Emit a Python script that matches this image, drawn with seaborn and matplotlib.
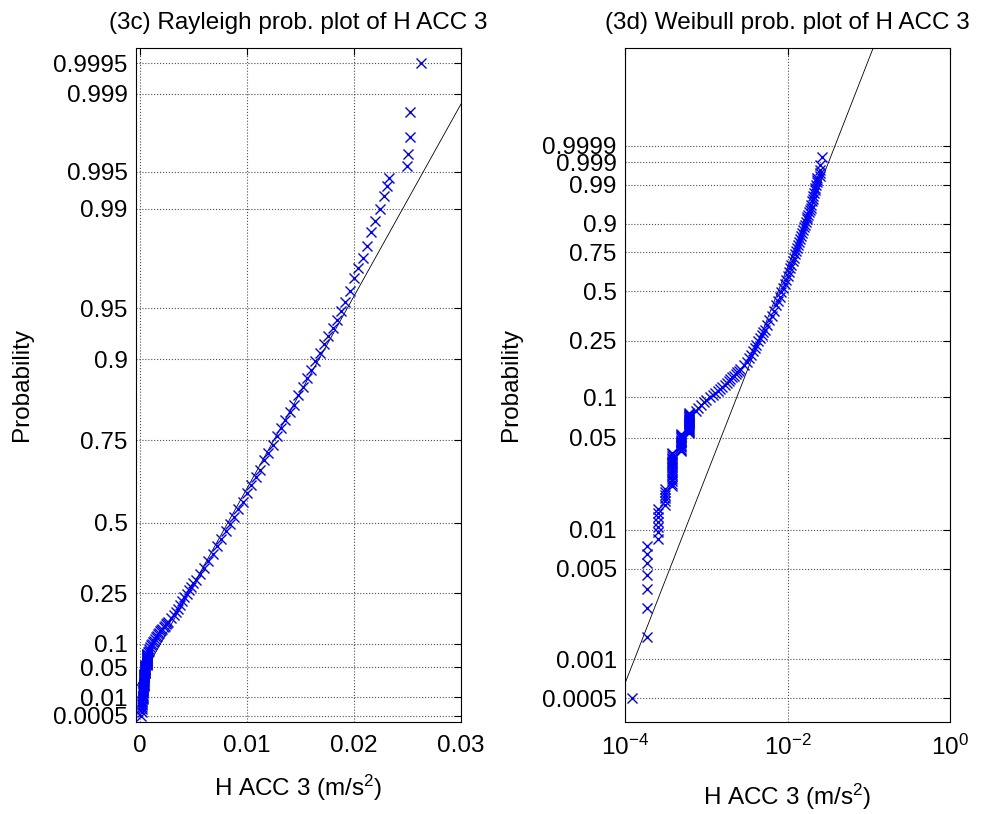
import numpy as np
import pandas as pd
import matplotlib
matplotlib.use('Agg')
import matplotlib.pyplot as plt
import seaborn as sns
from matplotlib.ticker import NullLocator

# --- 1. Data (H ACC 3, m/s^2) ---
n_samples = 1000

# lower tail: quantised values and how many samples share each one
tail_values = [1.22e-4, 1.84e-4, 2.56e-4, 3.1e-4, 3.8e-4, 4.9e-4, 6.2e-4]
tail_counts = [1, 7, 7, 6, 18, 15, 23]

# body of the sample: probability level -> acceleration
body_prob = [0.080, 0.084, 0.088, 0.092, 0.096, 0.100, 0.104, 0.108, 0.112, 0.116,
             0.120, 0.124, 0.128, 0.132, 0.136, 0.140, 0.144, 0.148, 0.152, 0.156,
             0.160, 0.170, 0.180, 0.190, 0.200, 0.212, 0.224, 0.236, 0.248, 0.260,
             0.272, 0.284, 0.296, 0.315, 0.339, 0.363, 0.387, 0.418, 0.442, 0.469,
             0.496, 0.519, 0.545, 0.570, 0.598, 0.625, 0.648, 0.670, 0.697, 0.717,
             0.739, 0.760, 0.778, 0.797, 0.813, 0.828, 0.845, 0.859, 0.873, 0.885,
             0.897, 0.908, 0.918, 0.926, 0.934, 0.941, 0.948, 0.954, 0.961, 0.968,
             0.973, 0.977, 0.981, 0.985, 0.9875, 0.9899, 0.9921, 0.9934, 0.9944]
body_acc = [7.5e-4, 8.0e-4, 8.6e-4, 9.3e-4, 1.0e-3, 1.1e-3, 1.2e-3, 1.29e-3, 1.38e-3, 1.48e-3,
            1.58e-3, 1.68e-3, 1.78e-3, 1.88e-3, 1.98e-3, 2.09e-3, 2.2e-3, 2.31e-3, 2.42e-3, 2.52e-3,
            2.62e-3, 2.9e-3, 3.15e-3, 3.35e-3, 3.55e-3, 3.75e-3, 3.95e-3, 4.15e-3, 4.35e-3, 4.55e-3,
            4.8e-3, 5.0e-3, 5.25e-3, 5.6e-3, 6.0e-3, 6.4e-3, 6.8e-3, 7.2e-3, 7.6e-3, 8.0e-3,
            8.4e-3, 8.8e-3, 9.2e-3, 9.6e-3, 1.00e-2, 1.04e-2, 1.08e-2, 1.12e-2, 1.16e-2, 1.20e-2,
            1.24e-2, 1.28e-2, 1.32e-2, 1.36e-2, 1.40e-2, 1.44e-2, 1.48e-2, 1.52e-2, 1.56e-2, 1.60e-2,
            1.64e-2, 1.68e-2, 1.72e-2, 1.76e-2, 1.80e-2, 1.84e-2, 1.88e-2, 1.92e-2, 1.96e-2, 2.00e-2,
            2.04e-2, 2.08e-2, 2.12e-2, 2.16e-2, 2.20e-2, 2.24e-2, 2.28e-2, 2.31e-2, 2.33e-2]

# five largest samples
top_prob = [0.9955, 0.9965, 0.9975, 0.9985, 0.9995]
top_acc = [0.02494, 0.02506, 0.02525, 0.02525, 0.0263]

# fitted reference lines
rayleigh_fit_acc = [-0.0004, 0.0301]
rayleigh_fit_prob = [0.0190, 0.9988]
weibull_scale = 0.00963
weibull_shape = 1.606

rayleigh_ticks = [0.0005, 0.01, 0.05, 0.1, 0.25, 0.5, 0.75, 0.9, 0.95, 0.99, 0.995, 0.999, 0.9995]
weibull_ticks = [0.0005, 0.001, 0.005, 0.01, 0.05, 0.1, 0.25, 0.5, 0.75, 0.9, 0.99, 0.999, 0.9999]


def rayleigh_q(p):
    return np.sqrt(-2 * np.log1p(-np.asarray(p, dtype=float)))


def weibull_w(p):
    return np.log(-np.log1p(-np.asarray(p, dtype=float)))


# --- 2. Assemble the sample ---
tail_acc = np.repeat(tail_values, tail_counts)
tail_prob = (np.arange(1, len(tail_acc) + 1) - 0.5) / n_samples
df = pd.DataFrame({
    'acc': np.concatenate([tail_acc, body_acc, top_acc]),
    'prob': np.concatenate([tail_prob, body_prob, top_prob]),
})
df['q'] = rayleigh_q(df['prob'])
df['w'] = weibull_w(df['prob'])

# --- 3. Style ---
sns.set_theme(style='white')
plt.rcParams['font.family'] = ['Liberation Sans', 'DejaVu Sans']
plt.rcParams['mathtext.fontset'] = 'custom'
plt.rcParams['mathtext.rm'] = 'Liberation Sans'
plt.rcParams['text.color'] = 'black'
plt.rcParams['axes.labelcolor'] = 'black'
plt.rcParams['xtick.color'] = 'black'
plt.rcParams['ytick.color'] = 'black'
fs = 17.5

fig = plt.figure(figsize=(9.86, 8.14), dpi=100)
W, H = 986, 814
ax1 = fig.add_axes([136 / W, 1 - 722 / H, 325 / W, 674 / H])
ax2 = fig.add_axes([625 / W, 1 - 722 / H, 325 / W, 674 / H])
ax2.set_xscale('log')

mk = dict(marker='x', color='blue', s=52, linewidth=1.0, legend=False, zorder=3)

# --- 4. Rayleigh panel ---
sns.scatterplot(data=df, x='acc', y='q', ax=ax1, **mk)
sns.lineplot(x=rayleigh_fit_acc, y=rayleigh_q(rayleigh_fit_prob), ax=ax1,
             color='black', linewidth=0.6, estimator=None, sort=False, zorder=2)
ax1.set_xlim(-0.00037, 0.03)
ax1.set_ylim(-0.004, 3.988)
ax1.set_xticks([0, 0.01, 0.02, 0.03])
ax1.set_xticklabels(['0', '0.01', '0.02', '0.03'])
ax1.set_yticks(rayleigh_q(rayleigh_ticks))
ax1.set_yticklabels([f'{t:g}' for t in rayleigh_ticks])
ax1.set_title('(3c) Rayleigh prob. plot of H ACC 3', fontsize=fs, pad=14, color='black')

# --- 5. Weibull panel ---
sns.scatterplot(data=df, x='acc', y='w', ax=ax2, **mk)
fit_x = np.array([1e-4, 1.0])
fit_w = weibull_shape * (np.log(fit_x) - np.log(weibull_scale))
ax2.plot(fit_x, fit_w, color='black', linewidth=0.6, zorder=2)
ax2.set_xlim(1e-4, 1)
ax2.set_ylim(-8.02, 3.96)
ax2.set_xticks([1e-4, 1e-2, 1])
ax2.set_xticklabels([r'$\mathregular{10^{-4}}$', r'$\mathregular{10^{-2}}$', r'$\mathregular{10^{0}}$'])
ax2.xaxis.set_minor_locator(NullLocator())
ax2.set_yticks(weibull_w(weibull_ticks))
ax2.set_yticklabels([f'{t:g}' for t in weibull_ticks])
ax2.set_title('(3d) Weibull prob. plot of H ACC 3', fontsize=fs, pad=14, color='black')

# --- 6. Common formatting ---
for ax, xl in [(ax1, -0.076), (ax2, -0.089)]:
    ax.grid(True, color='0.3', linestyle=':', linewidth=0.8)
    ax.set_axisbelow(True)
    for sp in ax.spines.values():
        sp.set_color('black')
        sp.set_linewidth(0.8)
    ax.tick_params(axis='both', which='major', direction='in', length=5, width=0.8,
                   top=True, right=True, labelsize=fs, colors='black')
    ax.tick_params(axis='x', pad=9)
    ax.tick_params(axis='y', pad=6)
    ax.set_xlabel(r'H ACC 3 (m/s$\mathregular{^2}$)', fontsize=fs, color='black')
    ax.set_ylabel('Probability', fontsize=fs, color='black')
    ax.xaxis.set_label_coords(0.5, xl)
    ax.yaxis.set_label_coords(-0.317, 0.5)

fig.savefig('out.png', dpi=100)
